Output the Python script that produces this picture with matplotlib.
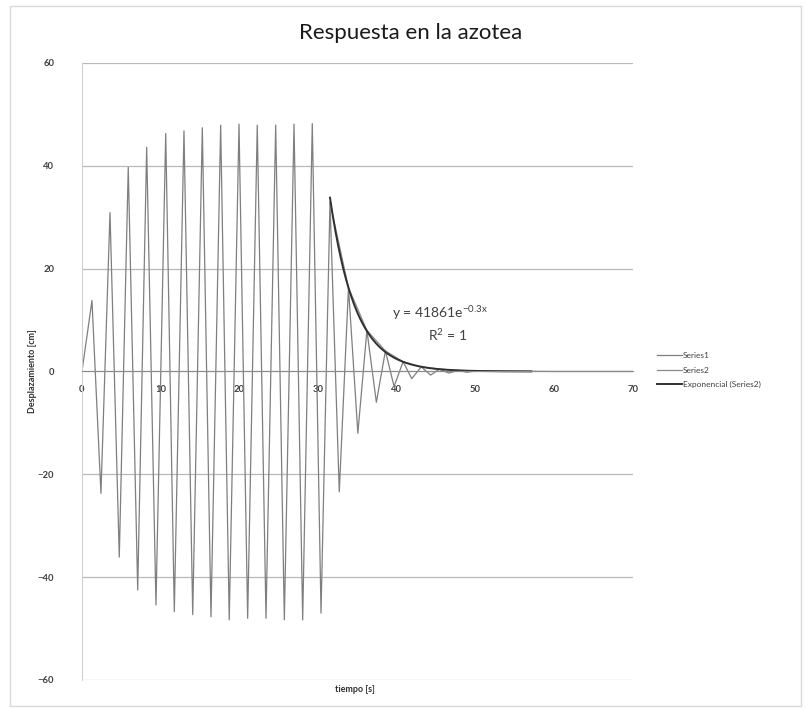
import numpy as np
import matplotlib.pyplot as plt
from matplotlib.patches import Rectangle

plt.rcParams['font.family'] = ['Lato', 'DejaVu Sans']

# Series1: roof displacement, extreme points of the response [s], [cm]
t1 = [0.0, 1.27, 2.41, 3.56, 4.74, 5.88, 7.08, 8.22, 9.40, 10.64, 11.73,
      12.96, 14.07, 15.29, 16.39, 17.62, 18.71, 19.95, 21.05, 22.27, 23.38,
      24.61, 25.71, 26.94, 28.04, 29.26, 30.37, 31.51, 32.69, 33.86, 35.05,
      36.20, 37.40, 38.55, 39.65, 40.80, 41.90, 43.10, 44.30, 45.40, 46.60,
      47.80, 48.90, 50.10, 60.0, 70.0]
d1 = [0.0, 13.8, -23.7, 30.9, -36.1, 39.7, -42.5, 43.6, -45.4, 46.3, -46.7,
      46.8, -47.3, 47.4, -47.7, 47.9, -48.3, 48.1, -48.0, 47.9, -48.0,
      47.9, -48.3, 48.1, -48.3, 48.2, -47.0, 32.9, -23.4, 16.3, -12.0,
      8.0, -6.0, 4.0, -2.9, 1.9, -1.4, 0.9, -0.7, 0.45, -0.3,
      0.2, -0.15, 0.1, 0.0, 0.0]

# Series2: positive peaks of the free vibration
t2 = [31.51, 33.86, 36.20, 38.55, 40.80, 43.10, 45.40, 47.80, 50.10, 52.40, 54.80, 57.10]
d2 = [32.9, 16.3, 8.0, 4.0, 1.9, 0.9, 0.45, 0.2, 0.1, 0.05, 0.025, 0.012]

yticks = [-60, -40, -20, 0, 20, 40, 60]
xticks = [0, 10, 20, 30, 40, 50, 60, 70]

# exponential trendline fitted on Series2
k, lnA = np.polyfit(t2, np.log(d2), 1)
tt = np.linspace(min(t2), max(t2), 300)
trend = np.exp(lnA) * np.exp(k * tt)

fig = plt.figure(figsize=(8.06, 7.10), dpi=100)
fig.patches.append(Rectangle((0.012, 0.006), 0.982, 0.986, transform=fig.transFigure,
                             fill=False, edgecolor='#d9d9d9', linewidth=1))
ax = fig.add_axes([0.1017, 0.0423, 0.6836, 0.869])

ax.plot(t1, d1, color='#7f7f7f', lw=0.9, label='Series1')
ax.plot(t2, d2, color='#8a8a8a', lw=0.9, label='Series2')
ax.plot(tt, trend, color='#303030', lw=1.4, label='Exponencial (Series2)')

ax.set_xlim(0, 70)
ax.set_ylim(-60, 60)
ax.set_yticks(yticks)
ax.set_xticks(xticks)
ax.yaxis.grid(True, color='#b8b8b8', lw=0.9)
ax.set_axisbelow(True)

for s in ['top', 'right']:
    ax.spines[s].set_visible(False)
ax.spines['left'].set_color('#d0d0d0')
ax.spines['bottom'].set_position(('data', 0))
ax.spines['bottom'].set_color('#8c8c8c')

ax.tick_params(axis='x', length=0, pad=10, labelsize=6.8, labelcolor='#404040')
ax.tick_params(axis='y', length=0, pad=20, labelsize=6.8, labelcolor='#404040')
for lab in ax.get_xticklabels() + ax.get_yticklabels():
    lab.set_fontweight('bold')

fig.text(0.51, 0.953, 'Respuesta en la azotea', fontsize=16, fontweight='normal',
         color='#1a1a1a', ha='center', va='center')
ax.set_ylabel('Desplazamiento [cm]', fontsize=6.5, fontweight='bold', color='#303030')
ax.yaxis.set_label_coords(-0.082, 0.5)
ax.set_xlabel('tiempo [s]', fontsize=6.5, fontweight='bold', color='#303030')
ax.xaxis.set_label_coords(0.495, -0.008)

ax.text(0.65, 0.596, r'y = 41861e$^{\mathregular{-0.3x}}$', transform=ax.transAxes,
        fontsize=10, color='#404040', ha='center', va='center')
ax.text(0.664, 0.559, r'R$^{\mathregular{2}}$ = 1', transform=ax.transAxes, fontsize=10,
        color='#404040', ha='center', va='center')

ax.legend(loc='center left', bbox_to_anchor=(1.03, 0.502), frameon=False, fontsize=6,
          handlelength=3.0, handletextpad=0.1, labelspacing=0.9, labelcolor='#404040')

fig.savefig('out.png', dpi=100)
